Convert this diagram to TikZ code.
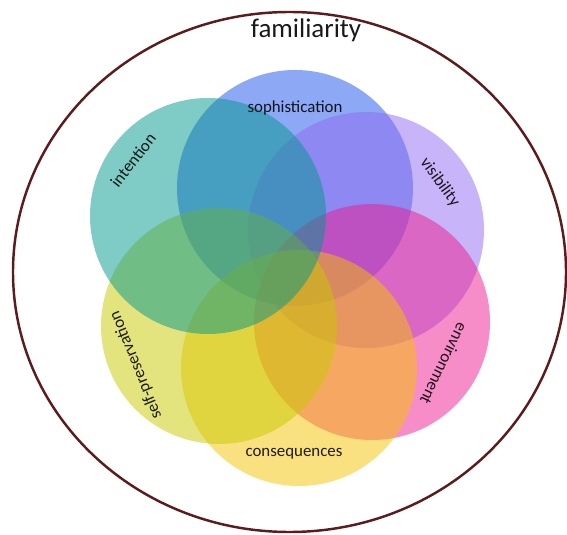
\documentclass[tikz,border=0pt]{standalone}
\usepackage{fontspec}
\setmainfont{Carlito}
\usepackage{tikz}
\usepackage{xcolor}
\definecolor{rim}{RGB}{92,28,30}
\definecolor{sophblue}{RGB}{27,81,235}
\definecolor{vispurple}{RGB}{145,105,241}
\definecolor{envpink}{RGB}{239,27,145}
\definecolor{consyellow}{RGB}{245,195,0}
\definecolor{selfgreen}{RGB}{201,201,0}
\definecolor{intteal}{RGB}{0,151,141}

\begin{document}
\begin{tikzpicture}[x=0.03cm,y=0.03cm,
  blob/.style={fill=#1,fill opacity=0.5},
  lbl/.style={font=\fontsize{14.4}{17}\selectfont,text=black,text opacity=0.88,inner sep=0pt}]
 \pgfmathsetmacro{\r}{118}
  \useasboundingbox (0,0) rectangle (567,534);

  % outer ring
  \draw[rim,line width=2.1pt] (289.5,262) ellipse (276.5 and 260);

  % six overlapping discs, later ones on top
  \foreach \x/\y/\c in {295/346/sophblue,366/304/vispurple,372/212/envpink,
                        299/166/consyellow,219/208/selfgreen,208/318/intteal}{
   \fill[blob=\c] (\x,\y) circle (\r);
  }

  \node[font=\fontsize{23}{27}\selectfont,text=black!90,inner sep=0pt] (fam) at (306,504) {familiarity};

  \node[lbl] (soph) at (295,426) {sophistication};
  \node[lbl,rotate=52] (int) at (133,374) {intention};
  \node[lbl,rotate=-54] (vis) at (440,351.5) {visibility};
  \node[lbl,rotate=-116] (env) at (444,170) {environment};
  \node[lbl] (cons) at (294,80) {consequences};
  \node[lbl,rotate=112] (self) at (136,169) {self-preservation};

\end{tikzpicture}
\end{document}
